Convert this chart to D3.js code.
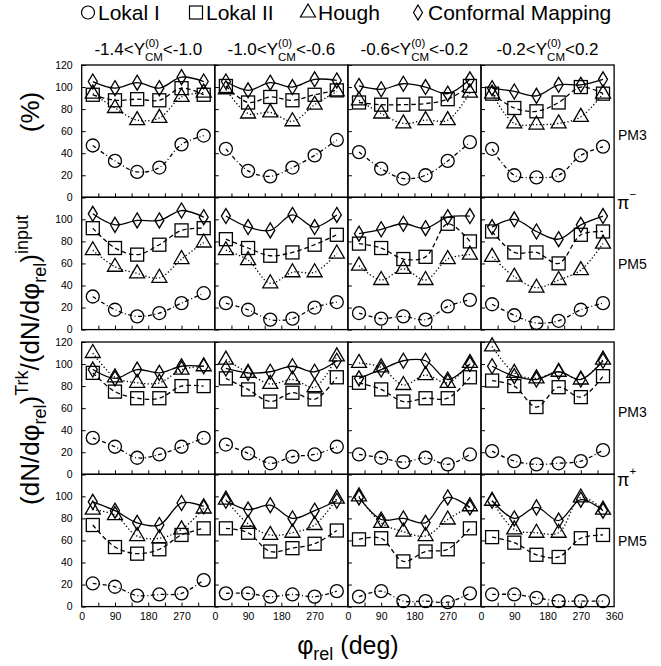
<!DOCTYPE html>
<html><head><meta charset="utf-8">
<script src="https://cdn.jsdelivr.net/npm/d3@7"></script>
<style>body{margin:0;background:#fff} text{white-space:pre}</style>
</head><body>
<svg id="c" width="661" height="666" xmlns="http://www.w3.org/2000/svg"></svg>
<script>
// ---------------- data ----------------
const phiRel = [30, 90, 150, 210, 270, 330];
const xTickLabels = [0, 90, 180, 270];
const xMinorTicks = [45, 90, 135, 180, 225, 270, 315];
const yTicks = [0, 20, 40, 60, 80, 100, 120];
const seriesNames = ["Lokal I", "Lokal II", "Hough", "Conformal Mapping"];
const yLow = ["-1.4", "-1.0", "-0.6", "-0.2"];
const yHigh = ["-1.0", "-0.6", "-0.2", "0.2"];
const rowModes = ["PM3", "PM5", "PM3", "PM5"];
const particleCharges = ["\u2212", "+"];

// pi- , PM3  (one row of 6 values per rapidity column)
const lokal1_piMinus_PM3 = [[47,33,23,27,48,56],[44,24,19,27,38,52],[41,26,17,20,33,50],[44,20,18,20,38,46]];
const lokal2_piMinus_PM3 = [[93,88,89,88,99,93],[101,86,91,88,93,97],[86,84,84,85,89,101],[94,81,78,86,100,94]];
const hough_piMinus_PM3  = [[94,81,70,72,91,95],[98,76,77,69,84,96],[88,76,67,70,70,95],[94,67,66,67,73,94]];
const cm_piMinus_PM3     = [[105,99,104,99,109,105],[105,97,104,100,107,106],[101,98,103,100,94,107],[99,96,92,102,102,107]];
// pi- , PM5
const lokal1_piMinus_PM5 = [[30,18,12,15,24,33],[24,18,9,10,20,25],[15,10,12,9,21,27],[23,13,6,8,18,24]];
const lokal2_piMinus_PM5 = [[92,74,68,77,90,92],[82,74,67,70,77,86],[78,74,64,66,96,80],[89,70,70,60,86,89]];
const hough_piMinus_PM5  = [[72,57,51,47,64,79],[72,63,42,52,52,69],[58,45,55,45,64,68],[66,48,38,45,54,78]];
const cm_piMinus_PM5     = [[105,95,99,99,108,102],[103,93,90,104,93,104],[87,91,96,92,102,103],[93,100,89,82,95,103]];
// pi+ , PM3
const lokal1_piPlus_PM3 = [[33,25,15,18,25,33],[27,19,10,16,18,25],[18,15,11,15,9,18],[21,12,9,10,12,22]];
const lokal2_piPlus_PM3 = [[92,75,69,69,80,80],[87,77,66,74,68,88],[83,77,66,69,69,88],[85,80,61,79,70,89]];
const hough_piPlus_PM3  = [[110,88,83,83,95,98],[104,92,82,86,79,107],[101,97,81,90,83,101],[116,92,87,93,86,104]];
const cm_piPlus_PM3     = [[95,87,95,92,98,98],[96,92,93,98,93,103],[87,95,103,103,86,100],[98,89,86,93,86,103]];
// pi+ , PM5
const lokal1_piPlus_PM5 = [[21,18,10,11,12,24],[12,12,9,11,9,14],[9,14,5,5,4,12],[11,11,8,5,5,5]];
const lokal2_piPlus_PM5 = [[74,54,48,52,65,71],[71,67,50,53,57,69],[61,62,41,50,52,71],[63,58,47,45,62,65]];
const hough_piPlus_PM5  = [[88,83,64,62,70,89],[97,75,65,67,74,98],[100,76,68,64,79,91],[96,70,67,67,99,88]];
const cm_piPlus_PM5     = [[95,87,76,74,94,91],[96,88,92,80,87,96],[99,79,80,76,99,90],[96,80,90,78,97,87]];

const rowsData = [
  [lokal1_piMinus_PM3, lokal2_piMinus_PM3, hough_piMinus_PM3, cm_piMinus_PM3],
  [lokal1_piMinus_PM5, lokal2_piMinus_PM5, hough_piMinus_PM5, cm_piMinus_PM5],
  [lokal1_piPlus_PM3,  lokal2_piPlus_PM3,  hough_piPlus_PM3,  cm_piPlus_PM3],
  [lokal1_piPlus_PM5,  lokal2_piPlus_PM5,  hough_piPlus_PM5,  cm_piPlus_PM5]
];

// ---------------- layout ----------------
const svg = d3.select("#c");
const FN = '"Liberation Sans", Arial, sans-serif';
const S = {leg: 21, title: 17, script: 11.5, tick: 10.5, row: 14, pi: 18};

const X0 = 81.7, PW = 133.1, PH = 132.3;
const groupTops = [65, 342];
const rowTops = [groupTops[0], groupTops[0] + PH, groupTops[1], groupTops[1] + PH];
const x = d3.scaleLinear().domain([0, 360]).range([0, PW]);
const y = d3.scaleLinear().domain([0, 120]).range([PH, 0]);

const markerFns = [
  (g) => g.append("circle").attr("r", 6.5),
  (g) => g.append("rect").attr("x", -6.5).attr("y", -6.5).attr("width", 13).attr("height", 13),
  (g) => g.append("path").attr("d", "M0,-8.5L7.5,4.5L-7.5,4.5Z"),
  (g) => g.append("path").attr("d", "M0,-7.5L4.5,0L0,7.5L-4.5,0Z")
];
const dashes = ["4,2.5,1,2.5", "4.5,3", "1.3,2.2", null];

const line = d3.line().x(d => x(d[0])).y(d => y(d[1])).curve(d3.curveCatmullRom);

function textWidth(str, fs) {
  const t = svg.append("text").attr("font-size", fs).style("font-family", FN).text(str);
  const w = t.node().getComputedTextLength();
  t.remove();
  return w;
}
// one <text> with tspans: parts [{t, fs, dy (absolute baseline offset), back}]
function rich(parent, parts) {
  const el = parent.append("text").style("font-family", FN);
  let cur = 0, total = 0, pen = 0, prevStart = 0;
  parts.forEach(p => {
    const w = textWidth(p.t, p.fs);
    const ts = el.append("tspan").attr("font-size", p.fs).text(p.t);
    const target = p.dy || 0;
    ts.attr("dy", target - cur); cur = target;
    let start = pen;
    if (p.back) { ts.attr("dx", prevStart - pen); start = prevStart; }
    pen = start + w;
    prevStart = start;
    total = Math.max(total, pen);
  });
  return {el, w: total};
}

// panels
rowsData.forEach((rowSeries, r) => {
  for (let c = 0; c < 4; c++) {
    const g = svg.append("g").attr("transform", `translate(${X0 + c * PW},${rowTops[r]})`);
    const ya = d3.axisLeft(y).tickValues(yTicks).tickSize(-4).tickPadding(9);
    if (c === 0) {
      const second = (r % 2 === 1);
      ya.tickFormat(v => (second && v === 120) ? "" : v);
    } else ya.tickFormat("");
    const yg = g.append("g").call(ya);
    yg.select(".domain").remove();
    yg.selectAll("text").attr("font-size", S.tick).style("font-family", FN).attr("fill", "#000");
    const xa = d3.axisBottom(x).tickValues(xMinorTicks).tickSize(-4).tickFormat("");
    const xg = g.append("g").attr("transform", `translate(0,${PH})`).call(xa);
    xg.select(".domain").remove();
    if (r === 3) {
      const lab = c === 3 ? xTickLabels.concat([360]) : xTickLabels;
      const xl = d3.axisBottom(x).tickValues(lab).tickSize(0).tickPadding(6);
      const xlg = g.append("g").attr("transform", `translate(0,${PH})`).call(xl);
      xlg.select(".domain").remove();
      xlg.selectAll("text").attr("font-size", S.tick).style("font-family", FN).attr("fill", "#000");
    }
    rowSeries.forEach((vals, s) => {
      const pts = phiRel.map((p, i) => [p, vals[c][i]]);
      g.append("path").attr("d", line(pts)).attr("fill", "none").attr("stroke", "#000")
        .attr("stroke-width", 1.3).attr("stroke-dasharray", dashes[s]);
      pts.forEach(pt => {
        const mg = g.append("g").attr("transform", `translate(${x(pt[0])},${y(pt[1])})`)
          .attr("fill", "none").attr("stroke", "#000").attr("stroke-width", 1.3);
        markerFns[s](mg);
      });
    });
    g.append("rect").attr("width", PW).attr("height", PH).attr("fill", "none")
      .attr("stroke", "#000").attr("stroke-width", 1.3);
  }
});

// column titles
for (let c = 0; c < 4; c++) {
  const rt = rich(svg, [
    {t: yLow[c] + "<Y", fs: S.title},
    {t: "(0)", fs: S.script, dy: -8.5},
    {t: "CM", fs: S.script, dy: 6, back: true},
    {t: "<" + yHigh[c], fs: S.title, dy: 0}
  ]);
  rt.el.attr("x", X0 + c * PW + PW / 2 - rt.w / 2).attr("y", 55);
}

// legend
const legX = [[88, 98], [196, 206], [308, 318], [418, 428]];
seriesNames.forEach((nm, s) => {
  const mg = svg.append("g").attr("transform", `translate(${legX[s][0]},12.5)`)
    .attr("fill", "none").attr("stroke", "#000").attr("stroke-width", 1.2);
  markerFns[s](mg);
  svg.append("text").attr("x", legX[s][1]).attr("y", 20).attr("font-size", S.leg)
    .style("font-family", FN).text(nm);
});

// row labels
rowModes.forEach((m, r) => {
  const off = (r % 2 === 0) ? 75 : 72;
  svg.append("text").attr("x", 618).attr("y", rowTops[r] + off).attr("font-size", S.row)
    .style("font-family", FN).text(m);
});
particleCharges.forEach((q, k) => {
  const rt = rich(svg, [{t: "π", fs: S.pi}, {t: q, fs: S.script, dy: -11}]);
  rt.el.attr("x", 617).attr("y", groupTops[k] + PH + 12);
});

// x title
const xt = rich(svg, [{t: "φ", fs: 25}, {t: "rel", fs: 18, dy: 6}, {t: "\u00a0(deg)", fs: 25, dy: 0}]);
xt.el.attr("x", X0 + 2 * PW - xt.w / 2).attr("y", 654);

// y title
const yt = rich(svg, [
  {t: "(dN/dφ", fs: 26}, {t: "rel", fs: 18, dy: 7}, {t: ")", fs: 26, dy: 0},
  {t: "Trk", fs: 18, dy: -11}, {t: "/(dN/dφ", fs: 26, dy: 0}, {t: "rel", fs: 18, dy: 7},
  {t: ")", fs: 26, dy: 0}, {t: "input", fs: 18, dy: -11}
]);
yt.el.attr("transform", `translate(39,${360 + yt.w / 2}) rotate(-90)`);
const yp = rich(svg, [{t: "(%)", fs: 26}]);
yp.el.attr("transform", `translate(39,${112 + yp.w / 2}) rotate(-90)`);
</script>
</body></html>
